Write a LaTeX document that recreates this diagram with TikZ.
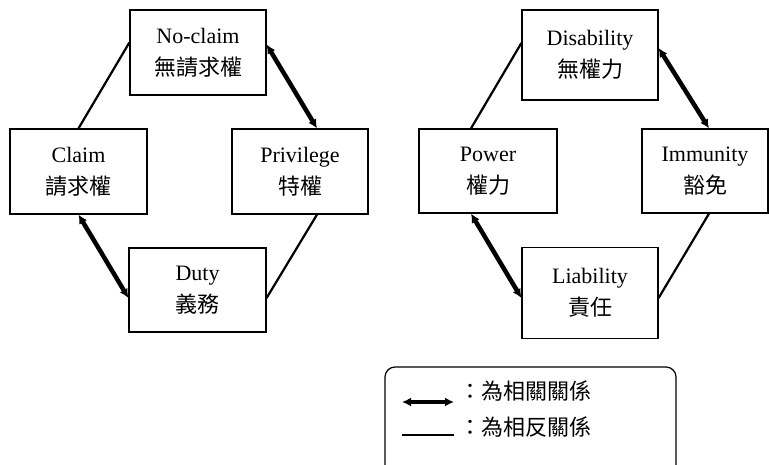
\documentclass[tikz,border=0pt]{standalone}
\usepackage{fontspec}
\setmainfont{Liberation Serif}
\newfontfamily\cjk{Noto Sans CJK TC}
\usetikzlibrary{arrows.meta}
\begin{document}
\begin{tikzpicture}[x=1pt,y=-1pt,
  box/.style={draw, line width=1.2pt, rectangle, align=center, inner sep=0pt,
    font=\fontsize{22}{32}\selectfont},
  opp/.style={line width=2.2pt},
  cor/.style={line width=4.5pt, {Latex[length=9pt,width=9pt]}-{Latex[length=9pt,width=9pt]}},
  legtext/.style={anchor=west, inner sep=0pt, font=\fontsize{22}{26}\selectfont\cjk}]
\useasboundingbox (0,0) rectangle (769,465);
\clip (0,0) rectangle (769,465);
% left group
\node[box, minimum width=136pt, minimum height=85pt] (noclaim) at (198,52.5) {No-claim\\{\cjk 無請求權}};
\node[box, minimum width=137pt, minimum height=85pt] (claim) at (78.5,171.5) {Claim\\{\cjk 請求權}};
\node[box, minimum width=136pt, minimum height=85pt] (privilege) at (300,171.5) {Privilege\\{\cjk 特權}};
\node[box, minimum width=137pt, minimum height=84pt] (duty) at (197.5,290) {Duty\\{\cjk 義務}};
% right group
\node[box, minimum width=136pt, minimum height=90pt] (disability) at (590,55) {Disability\\{\cjk 無權力}};
\node[box, minimum width=138pt, minimum height=84pt] (power) at (488,171) {Power\\{\cjk 權力}};
\node[box, minimum width=126pt, minimum height=84pt] (immunity) at (705,171) {Immunity\\{\cjk 豁免}};
\node[box, minimum width=136pt, minimum height=91pt] (liability) at (590,293) {Liability\\{\cjk 責任}};
% connectors left
\draw[opp] (claim.north) -- ([yshift=10pt]noclaim.west);
\draw[cor] ([yshift=8pt]noclaim.east) -- ([xshift=17pt]privilege.north);
\draw[cor] (claim.south) -- ([yshift=-8pt]duty.west);
\draw[opp] ([xshift=17pt]privilege.south) -- ([yshift=-8pt]duty.east);
% connectors right
\draw[opp] ([xshift=-17pt]power.north) -- ([yshift=12pt]disability.west);
\draw[cor] ([yshift=7pt]disability.east) -- ([xshift=4pt]immunity.north);
\draw[cor] ([xshift=-17pt]power.south) -- ([yshift=-5pt]liability.west);
\draw[opp] ([xshift=4pt]immunity.south) -- ([yshift=-5pt]liability.east);
% legend
\draw[line width=1.2pt, rounded corners=10pt] (385,367) rectangle (676,500);
\coordinate (la1) at (402,402);
\coordinate (la2) at (454,402);
\coordinate (lb1) at (402,435);
\coordinate (lb2) at (454,435);
\draw[cor] (la1) -- (la2);
\draw[opp] (lb1) -- (lb2);
\node[legtext] (lt1) at (459,391) {：為相關關係};
\node[legtext] (lt2) at (459,427) {：為相反關係};
\end{tikzpicture}
\end{document}
